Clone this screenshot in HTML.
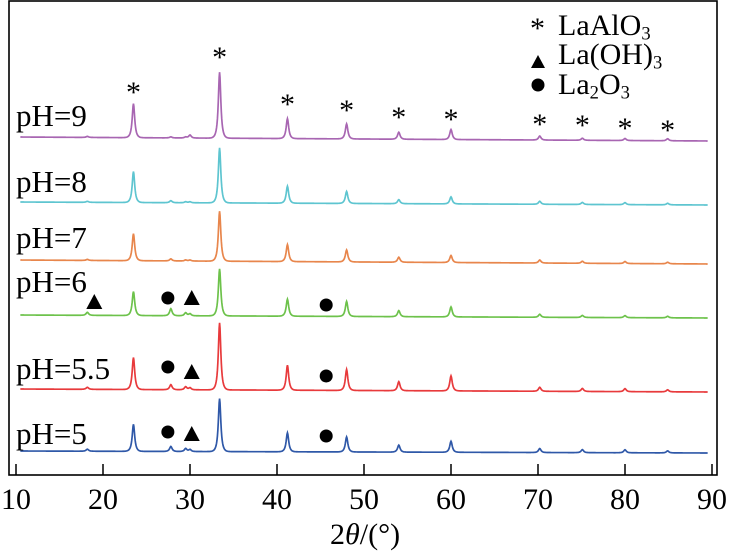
<!DOCTYPE html>
<html><head><meta charset="utf-8"><style>
html,body{margin:0;padding:0;background:#fff;}
#wrap{position:relative;width:731px;height:559px;overflow:hidden;}
svg{position:absolute;left:0;top:0;display:block;}
.t{position:absolute;font-family:"Liberation Serif","Times New Roman","DejaVu Serif",serif;color:#000;white-space:nowrap;line-height:1;}
.t sub{font-size:0.62em;vertical-align:-0.25em;line-height:0;}
</style></head><body>
<div id="wrap">
<svg id="chart" width="731" height="559" viewBox="0 0 731 559" xmlns="http://www.w3.org/2000/svg">
<rect x="9" y="1" width="708" height="474" fill="none" stroke="#000" stroke-width="1.6"/>
<g id="ticks"></g>
<g id="series"></g>
<g id="markers"></g>
<polygon points="531,68 545,68 538,55" fill="#000"/>
<circle cx="538" cy="85" r="6.5" fill="#000"/>
</svg>
<div id="labels"></div>
<div class="t" style="left:330px;top:520px;font-size:30px;">2<i>θ</i>/(°)</div>
<div class="t" style="left:530px;top:14px;font-size:30px;">*</div>
<div class="t" style="left:558px;top:11px;font-size:30px;">LaAlO<sub>3</sub></div>
<div class="t" style="left:558px;top:40px;font-size:30px;">La(OH)<sub>3</sub></div>
<div class="t" style="left:558px;top:70px;font-size:30px;">La<sub>2</sub>O<sub>3</sub></div>
</div>
<script>
const xTicks=[10,20,30,40,50,60,70,80,90];
const peakPos=[18.2,23.5,27.8,29.5,30.0,33.4,41.2,48.0,54.0,60.0,70.2,75.1,80.0,84.9];
const seriesNames=["pH=9","pH=8","pH=7","pH=6","pH=5.5","pH=5"];
const seriesColors=["#a866b2","#5ec5d0","#e8864c","#6dc24b","#e83a3c","#2f58a8"];
const baseLeft=[137,202,260,315,389,451];
const baseRight=[141,205,264,318,392,453];
const intPH9=[1,34,1,1,3,66,20,15,7,10,4,2,2,2];
const intPH8=[1,31,2,1,1,55,17,12,4,7,3,2,2,1.5];
const intPH7=[1,27,2,1,1,50,17,12,5,7,3,2,2,1.5];
const intPH6=[3,24,7,3,2,47,17,15,6,10,3,2,2,1.5];
const intPH55=[2,32,5,3,2,67,25,21,9,15,4,3,3,2];
const intPH5=[2,27,5,3,2,53,19,15,7,11,4,3,3,2];
const intensities=[intPH9,intPH8,intPH7,intPH6,intPH55,intPH5];
const labelY=[128,194,250,294,381,446];
const asteriskPos=[23.5,33.4,41.2,48.0,54.0,60.0,70.2,75.1,80.0,84.9];
const asteriskY=[90,55,102,108,115,117,122,123,126,128];
const circleMarks=[[3,27.8,298],[3,46,305],[4,27.8,367],[4,46,376],[5,27.8,432],[5,46,436]];
const triangleMarks=[[3,19,302],[3,30.2,298],[4,30.2,372],[5,30.2,434]];

const NS="http://www.w3.org/2000/svg";
const xS=v=>16+(v-10)*8.7;
const yS=(i,x,v)=>{const t=(x-10)/80;return baseLeft[i]+(baseRight[i]-baseLeft[i])*t - v;};
const lab=document.getElementById('labels');
function addText(txt,left,baseline,size,center){
 const d=document.createElement('div');
 d.className='t';
 d.style.fontSize=size+'px';
 d.style.top=(baseline-size*0.89)+'px';
 d.style.left=left+'px';
 if(center){d.style.transform='translateX(-50%)';}
 d.textContent=txt;
 lab.appendChild(d);
 return d;
}

const tg=document.getElementById('ticks');
xTicks.forEach(t=>{
 const l=document.createElementNS(NS,'line');
 l.setAttribute('x1',xS(t));l.setAttribute('x2',xS(t));l.setAttribute('y1',475);l.setAttribute('y2',464);
 l.setAttribute('stroke','#000');l.setAttribute('stroke-width','1.5');
 
 
 tg.appendChild(l);
 const tx=addText(String(t),xS(t),512,30,true);
 
 
});

const sg=document.getElementById('series');
intensities.forEach((arr,i)=>{
 let d='';
 for(let x=10.5;x<=89.5;x+=0.05){
  let v=0;
  peakPos.forEach((p,k)=>{const w=0.2;const dx=(x-p)/w;v+=arr[k]/(1+dx*dx*1.3)*Math.exp(-dx*dx*0.08);});
  d+=(d?'L':'M')+xS(x).toFixed(2)+','+yS(i,x,v).toFixed(2);
 }
 const p=document.createElementNS(NS,'path');
 p.setAttribute('d',d);p.setAttribute('fill','none');p.setAttribute('stroke',seriesColors[i]);p.setAttribute('stroke-width','1.7');
 
 
 sg.appendChild(p);
 const lb=addText(seriesNames[i],16,labelY[i],31,false);
 
 
});

asteriskPos.forEach((p,k)=>{
 const t=addText('*',xS(p),asteriskY[k]+15,30,true);
 
 
});
const mg=document.getElementById('markers');
circleMarks.forEach(m=>{
 const c=document.createElementNS(NS,'circle');
 c.setAttribute('cx',xS(m[1])-3);c.setAttribute('cy',m[2]);c.setAttribute('r',6.5);c.setAttribute('fill','#000');
 
 
 mg.appendChild(c);
});
triangleMarks.forEach(m=>{
 const x=xS(m[1]),y=m[2];
 const p=document.createElementNS(NS,'polygon');
 p.setAttribute('points',(x-8)+','+(y+7)+' '+(x+8)+','+(y+7)+' '+x+','+(y-8));
 p.setAttribute('fill','#000');
 
 
 mg.appendChild(p);
});
</script>
</body></html>
